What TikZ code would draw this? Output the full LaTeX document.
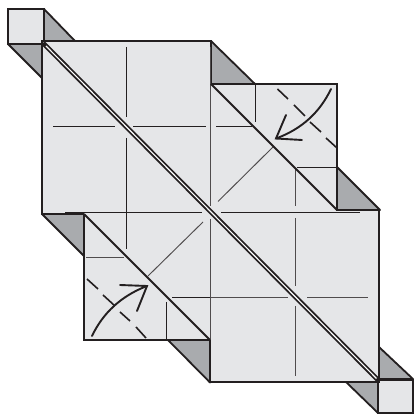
\documentclass[tikz,border=0pt]{standalone}
\definecolor{paper}{HTML}{E5E6E8}
\definecolor{shade}{HTML}{A9ABAE}
\definecolor{ink}{HTML}{231F20}
\tikzset{
  edge/.style={draw=ink,line width=2pt,line join=miter},
  flap/.style={fill=shade,draw=ink,line width=1.8pt,line join=round},
  sheet/.style={fill=paper,draw=ink,line width=1.9pt,line join=miter},
  crease/.style={draw=ink,line width=0.95pt},
  soft/.style={draw=ink!80,line width=0.95pt},
  dashline/.style={draw=ink,line width=1.6pt},
  arrowline/.style={draw=ink,line width=1.9pt,line cap=round,line join=miter}
}
\begin{document}
\begin{tikzpicture}[x=1pt,y=-1pt]
\useasboundingbox (0,0) rectangle (416,414);
% grey flaps
\path[flap] (44,9) -- (75,41) -- (44,41) -- cycle;
\path[flap] (8,44) -- (42,78) -- (42,44) -- cycle;
\path[flap] (211,41) -- (255,84) -- (211,84) -- cycle;
\path[flap] (337,167) -- (380,210) -- (337,210) -- cycle;
\path[flap] (42,214) -- (84,256) -- (84,214) -- cycle;
\path[flap] (168,340) -- (210,382.5) -- (210,340) -- cycle;
\path[flap] (379,347) -- (413,379) -- (379,379) -- cycle;
\path[flap] (346,382) -- (378,413) -- (378,382) -- cycle;
% paper
\path[sheet] (8,9) rectangle (44,44);
\path[sheet] (378,380) rectangle (413,413);
\path[fill=paper] (42,41) -- (211,41) -- (211,84) -- (337,84) -- (337,210) -- (379,210)
  -- (379,382) -- (210,382) -- (210,340) -- (84,340) -- (84,214) -- (42,214) -- cycle;
\draw[edge] (84,214) -- (42,214) -- (42,41) -- (211,41) -- (211,84) -- (337,84) -- (337,210) -- (379,210)
  -- (379,382) -- (210,382) -- (210,340) -- (84,340) -- (84,214);
% creases
\draw[crease] (126,47) -- (126,117) (126,138) -- (126,249);
\draw[crease] (53,126.5) -- (115,126.5) (133,126.5) -- (206,126.5);
\draw[soft] (210.5,47) -- (210.5,206) (210.5,219) -- (210.5,340);
\draw[crease] (65,212) -- (202,212) (221,212) -- (360,212);
\draw[crease] (255.5,85) -- (255.5,122) (216,126.5) -- (252,126.5);
\draw[soft] (218,201.5) -- (273,147);
\draw[crease] (297,167.5) -- (336,167.5);
\draw[soft] (295,169) -- (295,206) (295,218) -- (295,286) (295,306) -- (295,376);
\draw[soft] (206,297) -- (288,297) (307,297) -- (368,297);
\draw[soft] (86,257) -- (124,257);
\draw[soft] (148,276) -- (203,222);
\draw[crease] (172,297) -- (210,297) (166,302) -- (166,339);
% diagonal folds
\draw[draw=ink,line width=4.8pt] (43,43) -- (379,381);
\draw[draw=white,line width=1.1pt] (46,46) -- (376.5,378.5);
\draw[edge] (211,84) -- (337,210);
\draw[edge] (84,214) -- (210,340);
% dashed valley lines
\draw[dashline] (277.5,89) -- (288,99) (294,105) -- (305,116) (310,122) -- (321,132) (326,138) -- (337,148);
\draw[dashline] (87,279) -- (98,289) (103,295) -- (115,306) (120,312) -- (130,321) (136,327) -- (146,338);
% arrows
\draw[arrowline] (331,89) .. controls (320,112) and (302,129) .. (276,138.5);
\draw[arrowline] (286,115) -- (276,138.5) -- (302,140);
\draw[arrowline] (92,336) .. controls (103,313) and (121,296) .. (147,286);
\draw[arrowline] (137,311) -- (147,286) -- (120,285);
\end{tikzpicture}
\end{document}
